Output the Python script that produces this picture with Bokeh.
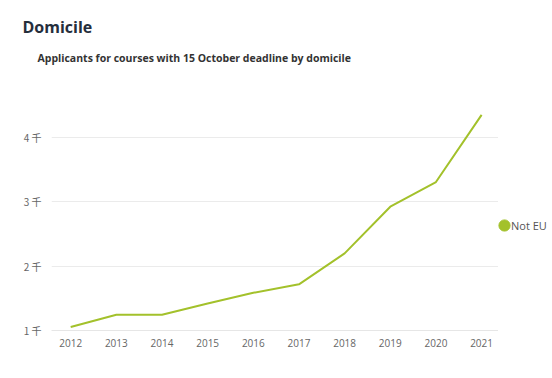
from bokeh.plotting import figure
from bokeh.layouts import row
from bokeh.models import Legend, LegendItem, Title, FixedTicker, Range1d, ColumnDataSource
from bokeh.embed import file_html
from bokeh.resources import INLINE

years = [2012, 2013, 2014, 2015, 2016, 2017, 2018, 2019, 2020, 2021]
not_eu = [1053, 1244, 1244, 1420, 1585, 1716, 2197, 2921, 3304, 4345]
y_ticks = [1000, 2000, 3000, 4000]
y_tick_labels = {1000: "1 千", 2000: "2 千", 3000: "3 千", 4000: "4 千"}
series_name = "Not EU"
title_text = "Domicile"
subtitle_text = "Applicants for courses with 15 October deadline by domicile"

GREEN = "#a3c12b"
FONT = "Open Sans"
H = 370

p = figure(width=498, height=H, output_backend="svg", toolbar_location=None,
           x_range=Range1d(2011.58, 2021.37), y_range=Range1d(1000, 4600),
           min_border_left=51, min_border_right=0, min_border_top=10, min_border_bottom=40)
p.outline_line_color = None
p.background_fill_color = "white"
p.border_fill_color = "white"

src = ColumnDataSource(dict(x=years, y=not_eu))
p.line("x", "y", source=src, line_color=GREEN, line_width=2)

# axes
p.xaxis.ticker = FixedTicker(ticks=years)
p.xaxis.axis_line_color = "#e6e6e6"
p.xaxis.major_tick_line_color = None
p.xaxis.major_tick_out = 0
p.xaxis.major_tick_in = 0
p.xaxis.minor_tick_line_color = None
p.xaxis.major_label_text_color = "#666666"
p.xaxis.major_label_text_font = FONT
p.xaxis.major_label_text_font_size = "10px"
p.xaxis.major_label_standoff = 8

p.yaxis.ticker = FixedTicker(ticks=y_ticks)
p.yaxis.major_label_overrides = y_tick_labels
p.yaxis.axis_line_color = None
p.yaxis.major_tick_line_color = None
p.yaxis.major_tick_out = 0
p.yaxis.major_tick_in = 0
p.yaxis.minor_tick_line_color = None
p.yaxis.major_label_text_color = "#666666"
p.yaxis.major_label_text_font = "Noto Sans CJK SC"
p.yaxis.major_label_text_font_size = "10px"
p.yaxis.major_label_standoff = 10

p.xgrid.grid_line_color = None
p.ygrid.grid_line_color = "#ebebeb"
p.ygrid.grid_line_width = 1

# titles (first added sits closest to the frame)
gap = Title(text=" ", text_font=FONT, text_font_size="6px", standoff=13)
sub = Title(text=subtitle_text, text_font=FONT, text_font_size="10.5px",
            text_font_style="bold", text_color="#333333", offset=-14, standoff=22)
main = Title(text=title_text, text_font=FONT, text_font_size="16px",
             text_font_style="bold", text_color="#252e3c", offset=-29, standoff=0)
top = Title(text=" ", text_font=FONT, text_font_size="6px", standoff=3)
p.add_layout(gap, "above")
p.add_layout(sub, "above")
p.add_layout(main, "above")
p.add_layout(top, "above")

# legend panel to the right
q = figure(width=54, height=H, output_backend="svg", toolbar_location=None,
           x_range=Range1d(0, 1), y_range=Range1d(0, 1),
           x_axis_type=None, y_axis_type=None,
           min_border_left=0, min_border_right=0, min_border_top=0, min_border_bottom=0)
q.outline_line_color = None
q.xgrid.visible = False
q.ygrid.visible = False
dot_src = ColumnDataSource(dict(x=[float("nan")], y=[float("nan")]))
dot = q.scatter("x", "y", source=dot_src, marker="circle", size=11,
                fill_color=GREEN, line_color=GREEN)
ghost = q.scatter("x", "y", source=dot_src, marker="circle", size=1,
                  fill_alpha=0, line_alpha=0)

common = dict(orientation="vertical", border_line_color=None, background_fill_alpha=0,
              padding=0, margin=0, spacing=0, label_text_font=FONT,
              label_text_font_size="11px", label_text_color="#555555")
marker_legend = Legend(items=[LegendItem(label=" ", renderers=[dot])],
                       location=(-8, 91), glyph_width=28, glyph_height=28,
                       label_standoff=0, **common)
label_legend = Legend(items=[LegendItem(label=series_name, renderers=[ghost])],
                      location=(13, 91), glyph_width=0, glyph_height=28,
                      label_standoff=0, **common)
q.add_layout(marker_legend, "center")
q.add_layout(label_legend, "center")

layout = row(p, q)
open("out.html", "w").write(file_html(layout, INLINE))
